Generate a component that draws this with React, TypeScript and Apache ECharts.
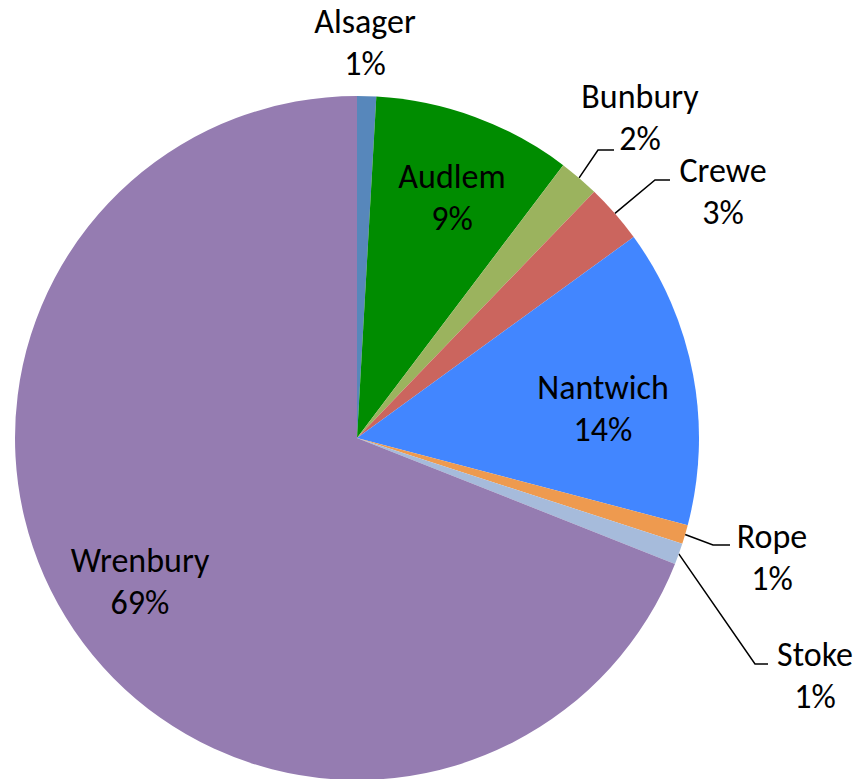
import React, { useEffect, useRef } from "react";
import * as echarts from "echarts";

const categories = ["Alsager", "Audlem", "Bunbury", "Crewe", "Nantwich", "Rope", "Stoke", "Wrenbury"];
const values = [9, 94, 19, 28, 141, 9, 10, 690];
const colors = ["#5787BB", "#008C00", "#9BB35E", "#CB655E", "#4286FF", "#EE9A4F", "#A6BBDB", "#957CB1"];
const outsideNames = ["Alsager", "Bunbury", "Crewe", "Rope", "Stoke"];
const noLineNames = ["Alsager"];

// label block centres (px) and leader-line elbow/end points
const labelPos: Record<string, [number, number]> = {
  Alsager: [365, 42],
  Audlem: [452, 197],
  Bunbury: [640, 117],
  Crewe: [723, 191],
  Nantwich: [603, 408],
  Rope: [772, 557],
  Stoke: [815, 675],
  Wrenbury: [140, 581],
};
const leaderBends: Record<string, [number, number][]> = {
  Bunbury: [[598, 150], [614, 150]],
  Crewe: [[655, 180], [670, 180]],
  Rope: [[713, 545], [730, 545]],
  Stoke: [[755, 664], [768, 664]],
};

export default function App() {
  const ref = useRef<HTMLDivElement>(null);
  useEffect(() => {
    if (!ref.current) return;
    const chart = echarts.init(ref.current, null, { renderer: "svg" });
    const data = categories.map((name, i) => {
      const outside = outsideNames.includes(name);
      return {
        name,
        value: values[i],
        itemStyle: { color: colors[i] },
        label: { position: outside ? "outside" : "inside" },
        labelLine: { show: outside && !noLineNames.includes(name) },
      };
    });
    chart.setOption({
      animation: false,
      backgroundColor: "#ffffff",
      series: [
        {
          type: "pie",
          center: [357, 438],
          radius: 342,
          startAngle: 90,
          clockwise: true,
          avoidLabelOverlap: false,
          itemStyle: { borderWidth: 0 },
          emphasis: { disabled: true },
          label: {
            formatter: (p: any) => `${p.name}\n${Math.round(p.percent)}%`,
            color: "#000000",
            fontFamily: "Carlito, Calibri, Lato, sans-serif",
            fontSize: 34,
            lineHeight: 42,
            align: "center",
          },
          labelLine: {
            lineStyle: { color: "#000000", width: 1.5 },
          },
          labelLayout: (params: any) => {
            const name = categories[params.dataIndex];
            const pos = labelPos[name];
            const res: any = { x: pos[0], y: pos[1], align: "center", verticalAlign: "middle" };
            const bends = leaderBends[name];
            if (bends) {
              let start: number[] | null = null;
              try {
                const lay = chart.getModel().getSeriesByIndex(0).getData().getItemLayout(params.dataIndex);
                const mid = (lay.startAngle + lay.endAngle) / 2;
                start = [lay.cx + lay.r * Math.cos(mid), lay.cy + lay.r * Math.sin(mid)];
              } catch (e) {
                start = params.labelLinePoints ? params.labelLinePoints[0] : null;
              }
              if (start) res.labelLinePoints = [start, ...bends];
            }
            return res;
          },
          data,
        },
      ],
    });
    return () => chart.dispose();
  }, []);
  return (
    <div
      ref={ref}
      style={{ position: "fixed", left: 0, top: 0, width: 863, height: 779, background: "#fff" }}
    />
  );
}
